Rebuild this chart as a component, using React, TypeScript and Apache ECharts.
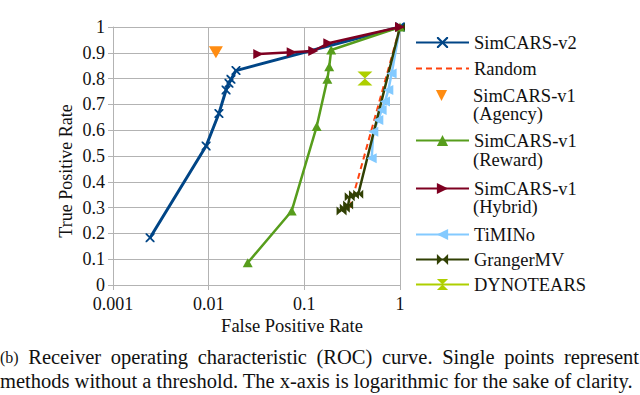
import React, { useEffect, useRef } from "react";
import * as echarts from "echarts";

const FONT = "Liberation Serif";

const seriesNames = [
  "SimCARS-v2",
  "Random",
  "SimCARS-v1 (Agency)",
  "SimCARS-v1 (Reward)",
  "SimCARS-v1 (Hybrid)",
  "TiMINo",
  "GrangerMV",
  "DYNOTEARS",
];

const simcarsV2: [number, number][] = [
  [0.00244, 0.183], [0.0094, 0.539], [0.0128, 0.665], [0.0152, 0.756],
  [0.0163, 0.782], [0.0171, 0.797], [0.0193, 0.831], [1, 1],
];
const randomLine: [number, number][] = [[0.3, 0.3], [1, 1]];
const agency: [number, number][] = [[0.0119, 0.902]];
const reward: [number, number][] = [
  [0.0256, 0.086], [0.0738, 0.287], [0.1346, 0.614], [0.174, 0.797],
  [0.182, 0.846], [0.191, 0.911], [1, 1],
];
const hybrid: [number, number][] = [
  [0.033, 0.895], [0.0738, 0.902], [0.124, 0.907], [0.178, 0.937], [1, 1],
];
const timino: [number, number][] = [
  [0.506, 0.491], [0.526, 0.594], [0.593, 0.64], [0.643, 0.678],
  [0.697, 0.711], [0.755, 0.756], [0.818, 0.82], [1, 1],
];
const granger: [number, number][] = [
  [0.245, 0.287], [0.265, 0.297], [0.287, 0.31], [0.298, 0.342],
  [0.33, 0.35], [0.366, 0.352], [1, 1],
];
const dynotears: [number, number][] = [[0.43, 0.8]];

const xTicks = [0.001, 0.01, 0.1, 1];

const colors = ["#004586", "#ff420e", "#ff8c12", "#579d1c", "#7e0021", "#83caff", "#314004", "#aecf00"];

const X_SYMBOL = "path://M0,0L1.4,0L5,3.6L8.6,0L10,0L10,1.4L6.4,5L10,8.6L10,10L8.6,10L5,6.4L1.4,10L0,10L0,8.6L3.6,5L0,1.4Z";
const BOWTIE = "path://M0,0L5,5L0,10Z M10,0L5,5L10,10Z";
const HOURGLASS = "path://M0,0L10,0L5,5Z M0,10L10,10L5,5Z";

const legendCenters = [40, 66, 93, 138, 186, 232, 257, 282];
const legendFirst = ["SimCARS-v2", "Random", "SimCARS-v1", "SimCARS-v1", "SimCARS-v1", "TiMINo", "GrangerMV", "DYNOTEARS"];
const legendSecond: [string, number][] = [["(Agency)", 114], ["(Reward)", 160], ["(Hybrid)", 207]];

const captionLine1 = ["(b)", "Receiver", "operating", "characteristic", "(ROC)", "curve.", "Single", "points", "represent"];
const captionLine2 = "methods without a threshold. The x-axis is logarithmic for the sake of clarity.";

export default function App() {
  const ref = useRef<HTMLDivElement>(null);
  useEffect(() => {
    if (!ref.current) return;
    const chart = echarts.init(ref.current, null, { renderer: "svg" });
    const lineW = 2.5;
    const mk = (name: string, data: [number, number][], color: string, extra: any) => ({
      name,
      type: "line",
      data,
      color,
      lineStyle: { color, width: lineW },
      itemStyle: { color },
      showSymbol: true,
      ...extra,
    });
    const series = [
      mk(seriesNames[1], randomLine, colors[1], { symbol: "none", lineStyle: { color: colors[1], width: 2, type: [6, 4] }, z: 1 }),
      mk(seriesNames[0], simcarsV2, colors[0], { symbol: X_SYMBOL, symbolSize: 9, lineStyle: { color: colors[0], width: 3 }, z: 3 }),
      mk(seriesNames[2], agency, colors[2], { symbol: "triangle", symbolRotate: 180, symbolSize: [14, 12], lineStyle: { width: 0, opacity: 0 } }),
      mk(seriesNames[3], reward, colors[3], { symbol: "triangle", symbolSize: [10, 9] }),
      mk(seriesNames[4], hybrid, colors[4], { symbol: "triangle", symbolRotate: -90, symbolSize: [10, 10], z: 4 }),
      mk(seriesNames[5], timino, colors[5], { symbol: "triangle", symbolRotate: 90, symbolSize: [10, 10], z: 2 }),
      mk(seriesNames[6], granger, colors[6], { symbol: BOWTIE, symbolSize: [10, 9], z: 2 }),
      mk(seriesNames[7], dynotears, colors[7], { symbol: HOURGLASS, symbolSize: [15, 14] }),
    ];
    const legends = seriesNames.map((name, i) => ({
      data: [i === 1 ? { name, itemStyle: { opacity: 0 } } : name],
      left: 415,
      top: legendCenters[i] - 7,
      orient: "vertical",
      itemWidth: 53,
      itemHeight: 14,
      padding: 0,
      selectedMode: false,
      formatter: () => legendFirst[i],
      textStyle: { fontFamily: FONT, fontSize: 18.5, color: "#111", lineHeight: 18 },
    }));

    // justify caption line 1 across the full width
    const capFont = `20.5px ${FONT}`;
    const smallFont = `16px ${FONT}`;
    const ctx = document.createElement("canvas").getContext("2d")!;
    const widths = captionLine1.map((w, i) => {
      ctx.font = i === 0 ? smallFont : capFont;
      return ctx.measureText(w).width;
    });
    const totalW = widths.reduce((a, b) => a + b, 0);
    const gap = (639 - totalW) / (captionLine1.length - 1);
    let cx = 0;
    const line1Texts = captionLine1.map((w, i) => {
      const el = {
        type: "text", x: cx, y: 357,
        style: { text: w, font: i === 0 ? smallFont : capFont, fill: "#111", verticalAlign: "middle" },
      };
      cx += widths[i] + gap;
      return el;
    });

    const graphics: any[] = [
      ...legendSecond.map(([t, y]) => ({
        type: "text", x: 473, y,
        style: { text: t, font: `18.5px ${FONT}`, fill: "#111", verticalAlign: "middle" },
      })),
      {
        type: "text", x: 66, y: 171, rotation: Math.PI / 2,
        style: { text: "True Positive Rate", font: `18px ${FONT}`, fill: "#111", align: "center", verticalAlign: "middle" },
      },
      {
        type: "text", x: 292, y: 326,
        style: { text: "False Positive Rate", font: `18.5px ${FONT}`, fill: "#111", align: "center", verticalAlign: "middle" },
      },
      ...line1Texts,
      {
        type: "text", x: 0, y: 381,
        style: { text: captionLine2, font: capFont, fill: "#111", verticalAlign: "middle" },
      },
    ];
    chart.setOption({
      animation: false,
      backgroundColor: "#fff",
      textStyle: { fontFamily: FONT },
      grid: { left: 113, right: 240, top: 27, bottom: 110, containLabel: false },
      xAxis: {
        type: "log",
        logBase: 10,
        min: xTicks[0],
        max: xTicks[xTicks.length - 1],
        axisLine: { show: true, lineStyle: { color: "#b3b3b3" } },
        axisTick: { show: true, length: 5, lineStyle: { color: "#b3b3b3" } },
        splitLine: { show: true, lineStyle: { color: "#b3b3b3", width: 1 } },
        axisLabel: {
          margin: 10,
          fontFamily: FONT,
          fontSize: 18,
          color: "#111",
          formatter: (v: number) => {
            const t = xTicks.find((k) => Math.abs(Math.log10(k) - Math.log10(v)) < 1e-6);
            return t !== undefined ? String(t) : "";
          },
        },
      },
      yAxis: {
        type: "value",
        min: 0,
        max: 1,
        interval: 0.1,
        axisLine: { show: true, lineStyle: { color: "#b3b3b3" } },
        axisTick: { show: true, length: 5, lineStyle: { color: "#b3b3b3" } },
        splitLine: { show: true, lineStyle: { color: "#b3b3b3", width: 1 } },
        axisLabel: {
          margin: 8,
          fontFamily: FONT,
          fontSize: 18,
          color: "#111",
          formatter: (v: number) => String(Math.round(v * 10) / 10),
        },
      },
      legend: legends,
      graphic: graphics,
      series,
    });
    return () => chart.dispose();
  }, []);
  return (
    <div
      ref={ref}
      style={{ position: "absolute", left: 0, top: 0, width: 640, height: 395, background: "#fff" }}
    />
  );
}
